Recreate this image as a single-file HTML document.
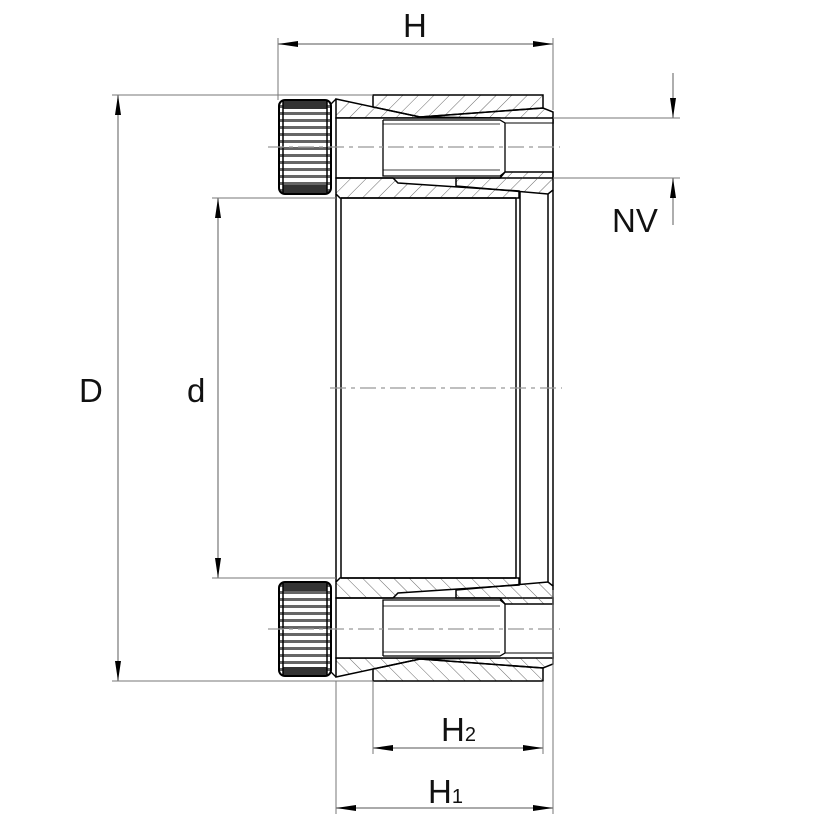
<!DOCTYPE html>
<html><head><meta charset="utf-8"><style>
html,body{margin:0;padding:0;background:#fff}
svg{display:block}
text{font-family:"Liberation Sans",sans-serif;fill:#111}
</style></head><body>
<svg width="832" height="832" viewBox="0 0 832 832" xmlns="http://www.w3.org/2000/svg">
<defs>
<pattern id="h" width="11" height="11" patternUnits="userSpaceOnUse" patternTransform="rotate(45)">
<line x1="0" y1="0" x2="0" y2="11" stroke="#444" stroke-width="0.8"/>
</pattern>
<pattern id="k" width="10" height="7" patternUnits="userSpaceOnUse">
<rect width="10" height="7" fill="#fff"/>
<rect y="0" width="10" height="3" fill="#666"/>
</pattern>
<marker id="a" viewBox="0 0 20 8" refX="20" refY="4" markerWidth="20" markerHeight="8" markerUnits="userSpaceOnUse" orient="auto-start-reverse">
<path d="M0,1 L20,4 L0,7 Z" fill="#000"/>
</marker>
<g id="half">
<rect x="279" y="100" width="52" height="94" rx="6" fill="url(#k)" stroke="#000" stroke-width="2"/>
<rect x="283" y="101" width="44" height="8" fill="#333"/>
<rect x="283" y="185" width="44" height="8" fill="#333"/>
<line x1="283" y1="100" x2="283" y2="194" stroke="#000" stroke-width="1.5"/>
<line x1="327" y1="100" x2="327" y2="194" stroke="#000" stroke-width="1.5"/>
<polygon points="373,95 543,95 543,108 420,117 373,107" fill="url(#h)" stroke="#000" stroke-width="1.5"/>
<polygon points="336,99 420,117 420,118 336,118" fill="url(#h)" stroke="#000" stroke-width="1.5"/>
<polygon points="420,117 543,108 553,112 553,123 505,123 500,118" fill="url(#h)" stroke="#000" stroke-width="1.5"/>
<rect x="336" y="118" width="217" height="60" fill="#fff" stroke="#000" stroke-width="1.5"/>
<polyline points="383,120 500,120 505,123 505,172 500,176 383,176 383,120" fill="none" stroke="#000" stroke-width="1.3"/>
<line x1="383" y1="124" x2="500" y2="124" stroke="#000" stroke-width="0.8"/>
<line x1="383" y1="170" x2="500" y2="170" stroke="#000" stroke-width="0.8"/>
<line x1="505" y1="123" x2="553" y2="123" stroke="#000" stroke-width="1"/>
<line x1="505" y1="172" x2="553" y2="172" stroke="#000" stroke-width="1"/>
<line x1="268" y1="147" x2="560" y2="147" stroke="#999" stroke-width="1.3" stroke-dasharray="16,5,4,5"/>
<polygon points="336,178 393,178 398,183 519,191 519,198 340,198 336,194" fill="url(#h)" stroke="#000" stroke-width="1.5"/>
<polygon points="456,178 500,178 505,172 553,172 553,190 548,194 456,186" fill="url(#h)" stroke="#000" stroke-width="1.5"/>
<line x1="331" y1="104" x2="336" y2="99" stroke="#000" stroke-width="1.3"/>
</g>
</defs>

<use href="#half"/>
<use href="#half" transform="translate(0,776) scale(1,-1)"/>

<g stroke="#000" stroke-width="1.5">
<line x1="336" y1="194" x2="336" y2="582"/>
<line x1="341" y1="198" x2="341" y2="578"/>
<line x1="516" y1="198" x2="516" y2="578"/>
<line x1="520" y1="191" x2="520" y2="585"/>
<line x1="548" y1="194" x2="548" y2="582"/>
<line x1="553" y1="190" x2="553" y2="586"/>
<line x1="341" y1="198" x2="516" y2="198"/>
<line x1="341" y1="578" x2="516" y2="578"/>
</g>
<line x1="330" y1="388" x2="562" y2="388" stroke="#999" stroke-width="1.3" stroke-dasharray="16,5,4,5"/>

<g stroke="#777" stroke-width="1">
<line x1="278" y1="38" x2="278" y2="100"/>
<line x1="553" y1="38" x2="553" y2="110"/>
<line x1="112" y1="95" x2="373" y2="95"/>
<line x1="112" y1="681" x2="373" y2="681"/>
<line x1="212" y1="198" x2="336" y2="198"/>
<line x1="212" y1="578" x2="336" y2="578"/>
<line x1="553" y1="118" x2="680" y2="118"/>
<line x1="553" y1="178" x2="680" y2="178"/>
<line x1="373" y1="681" x2="373" y2="754"/>
<line x1="543" y1="681" x2="543" y2="754"/>
<line x1="336" y1="681" x2="336" y2="814"/>
<line x1="553" y1="590" x2="553" y2="814"/>
</g>
<g stroke="#777" stroke-width="1.2">
<line x1="278" y1="44" x2="553" y2="44" marker-start="url(#a)" marker-end="url(#a)"/>
<line x1="118" y1="95" x2="118" y2="681" marker-start="url(#a)" marker-end="url(#a)"/>
<line x1="218" y1="198" x2="218" y2="578" marker-start="url(#a)" marker-end="url(#a)"/>
<line x1="373" y1="748" x2="543" y2="748" marker-start="url(#a)" marker-end="url(#a)"/>
<line x1="336" y1="808" x2="553" y2="808" marker-start="url(#a)" marker-end="url(#a)"/>
<line x1="673" y1="73" x2="673" y2="118" marker-end="url(#a)"/>
<line x1="673" y1="225" x2="673" y2="178" marker-end="url(#a)"/>
</g>

<text x="403" y="37" font-size="33">H</text>
<text x="79" y="402" font-size="33">D</text>
<text x="187" y="402" font-size="33">d</text>
<text x="612" y="232" font-size="33">NV</text>
<text x="441" y="741" font-size="33">H<tspan font-size="20">2</tspan></text>
<text x="428" y="803" font-size="33">H<tspan font-size="20">1</tspan></text>
</svg>
</body></html>
